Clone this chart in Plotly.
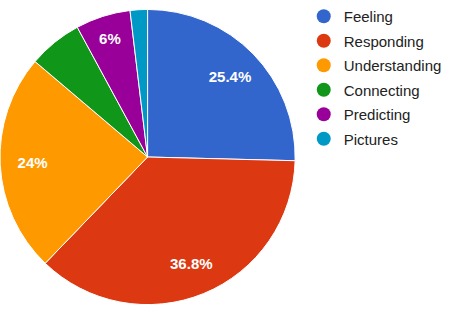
import plotly.graph_objects as go

labels = ["Feeling", "Responding", "Understanding", "Connecting", "Predicting", "Pictures"]
values = [25.4, 36.8, 24.0, 5.9, 6.0, 1.9]
colors = ["#3366cc", "#dc3912", "#ff9900", "#109618", "#990099", "#0099c6"]
show_text = [True, True, True, False, True, False]

dom = dict(x=[0, 0.653], y=[0.013, 0.974])
fig = go.Figure()
fig.add_trace(go.Pie(
    labels=labels, values=values, sort=False, direction="clockwise", rotation=0,
    marker=dict(colors=colors, line=dict(color="white", width=1)),
    textinfo="none", showlegend=False, hoverinfo="label+percent",
    domain=dom,
))
# transparent ring overlay carrying the percentage labels further out
fig.add_trace(go.Pie(
    labels=labels, values=values, sort=False, direction="clockwise", rotation=0,
    hole=0.56,
    marker=dict(colors=["rgba(0,0,0,0)"] * len(labels), line=dict(width=0)),
    texttemplate=["%{percent:.1~%}" if s else "" for s in show_text],
    textposition="inside", insidetextorientation="horizontal",
    textfont=dict(family="Liberation Sans, Arial", size=15, color="white", weight="bold"),
    showlegend=False, hoverinfo="skip",
    domain=dom,
))
for lab, col in zip(labels, colors):
    fig.add_trace(go.Scatter(x=[None], y=[None], mode="markers", name=lab,
                             legendgroup=lab,
                             marker=dict(symbol="circle", size=14, color=col)))

fig.update_layout(
    width=452, height=310, margin=dict(l=0, r=0, t=0, b=0),
    paper_bgcolor="white", plot_bgcolor="white",
    xaxis=dict(visible=False), yaxis=dict(visible=False),
    legend=dict(x=0.672, y=1.0, xanchor="left", yanchor="top",
                font=dict(family="Liberation Sans, Arial", size=15, color="#222222"),
                itemsizing="trace", bgcolor="rgba(0,0,0,0)",
                traceorder="grouped", tracegroupgap=2),
    font=dict(family="Liberation Sans, Arial"),
)
fig.write_html("out.html")
